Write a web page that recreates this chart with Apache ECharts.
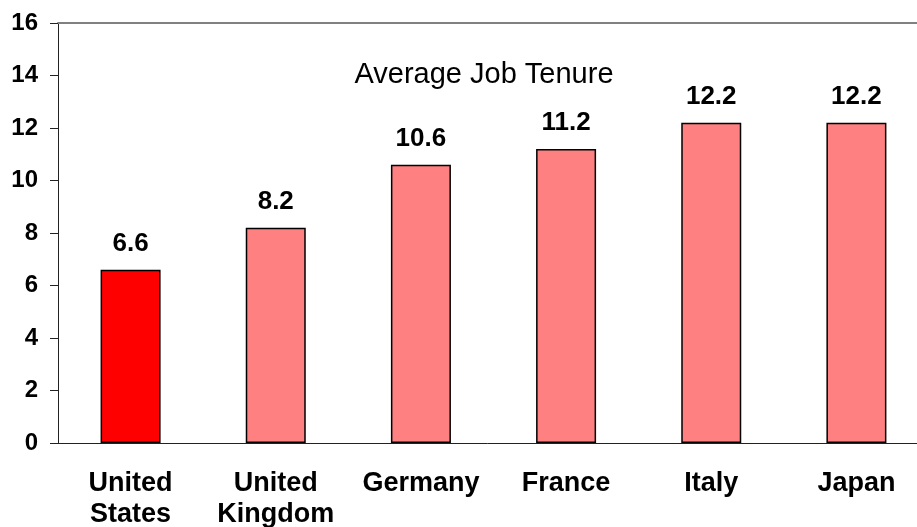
<!DOCTYPE html>
<html>
<head>
<meta charset="utf-8">
<script src="https://cdn.jsdelivr.net/npm/echarts@6/dist/echarts.min.js"></script>
<style>
  html, body { margin: 0; padding: 0; background: #fff; }
  #chart { width: 917px; height: 527px; }
</style>
</head>
<body>
<div id="chart"></div>
<script>
// Average job tenure by country (years)
const countries = ['United\nStates', 'United\nKingdom', 'Germany', 'France', 'Italy', 'Japan'];
const tenureYears = [6.6, 8.2, 10.6, 11.2, 12.2, 12.2];
const barColors = ['#FF0000', '#FF8080', '#FF8080', '#FF8080', '#FF8080', '#FF8080'];
const chartTitle = 'Average Job Tenure';

const font = 'Liberation Sans, Arial, Helvetica, sans-serif';

const chart = echarts.init(document.getElementById('chart'), null, { renderer: 'canvas' });

chart.setOption({
  backgroundColor: '#ffffff',
  animation: false,
  title: {
    text: chartTitle,
    left: 484,
    top: 75,
    padding: 0,
    textAlign: 'center',
    textVerticalAlign: 'middle',
    textStyle: { fontFamily: font, fontSize: 29, fontWeight: 'normal', color: '#000' }
  },
  // plot area runs slightly past the right edge of the canvas
  grid: { left: 58, top: 23, width: 871, height: 420, containLabel: false, outerBoundsMode: 'none' },
  xAxis: [
    {
      type: 'category',
      data: countries,
      axisLine: { lineStyle: { color: '#222', width: 1 } },
      axisTick: { length: 8, lineStyle: { color: '#222' } },
      axisLabel: {
        interval: 0,
        margin: 25,
        fontFamily: font,
        fontSize: 27,
        fontWeight: 'bold',
        color: '#000',
        lineHeight: 31
      }
    },
    {
      type: 'category',
      position: 'top',
      data: countries,
      axisLine: { lineStyle: { color: '#808080', width: 2 } },
      axisTick: { show: false },
      axisLabel: { show: false }
    }
  ],
  yAxis: {
    type: 'value',
    min: 0,
    max: 16,
    interval: 2,
    axisLine: { show: true, lineStyle: { color: '#222', width: 1 } },
    axisTick: { show: true, length: 8, lineStyle: { color: '#222' } },
    splitLine: { show: false },
    axisLabel: {
      margin: 20,
      fontFamily: font,
      fontSize: 24,
      fontWeight: 'bold',
      color: '#000'
    }
  },
  series: [{
    type: 'bar',
    xAxisIndex: 0,
    barWidth: 60,
    data: tenureYears.map((v, i) => ({ value: v, itemStyle: { color: barColors[i] } })),
    itemStyle: { borderColor: '#000', borderWidth: 1.5 },
    label: {
      show: true,
      position: 'top',
      distance: 13,
      fontFamily: font,
      fontSize: 26,
      fontWeight: 'bold',
      color: '#000',
      formatter: p => p.value.toFixed(1)
    }
  }]
});
</script>
</body>
</html>
